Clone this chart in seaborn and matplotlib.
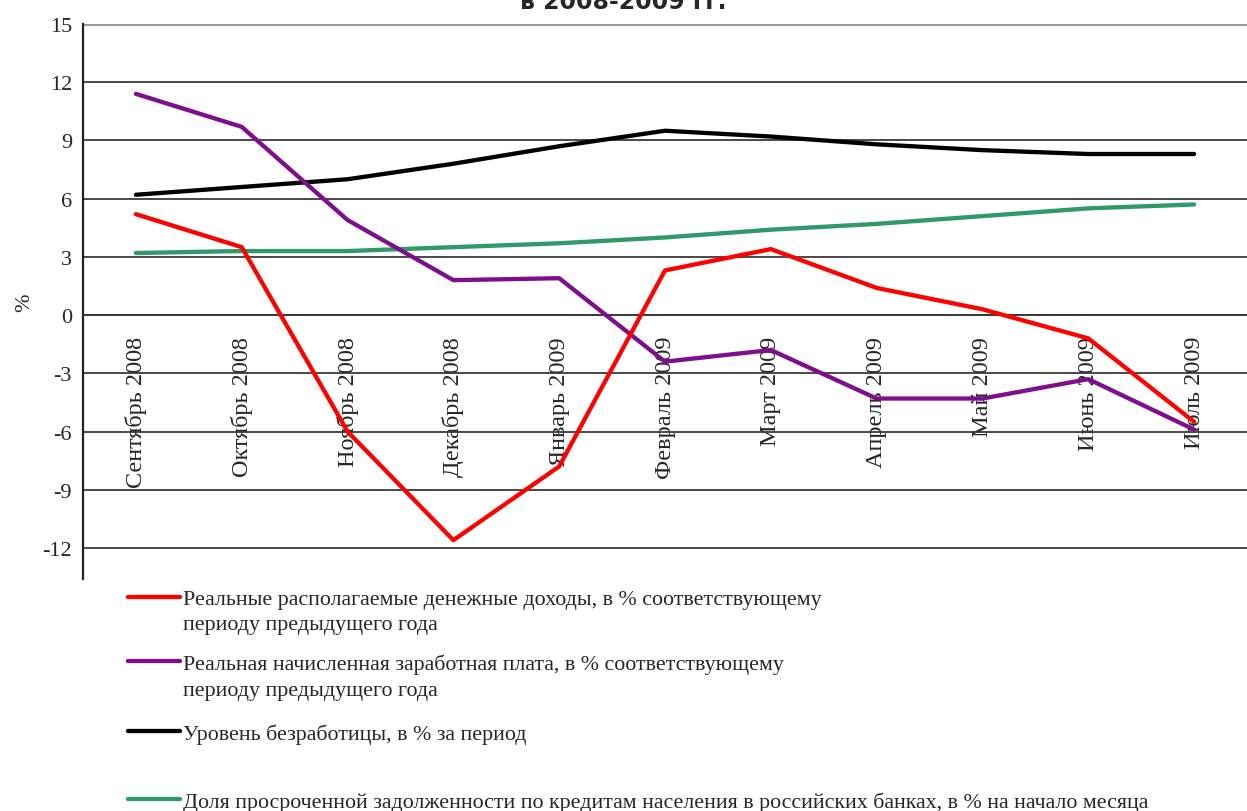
import matplotlib
matplotlib.use("Agg")
import matplotlib.pyplot as plt
from matplotlib.lines import Line2D
import seaborn as sns
import pandas as pd
import numpy as np

months = ["Сентябрь 2008", "Октябрь 2008", "Ноябрь 2008", "Декабрь 2008", "Январь 2009",
          "Февраль 2009", "Март 2009", "Апрель 2009", "Май 2009", "Июнь 2009", "Июль 2009"]

income = [5.2, 3.5, -6.0, -11.6, -7.8, 2.3, 3.4, 1.4, 0.3, -1.2, -5.5]
wages = [11.4, 9.7, 4.9, 1.8, 1.9, -2.4, -1.8, -4.3, -4.3, -3.3, -5.9]
unemployment = [6.2, 6.6, 7.0, 7.8, 8.7, 9.5, 9.2, 8.8, 8.5, 8.3, 8.3]
overdue = [3.2, 3.3, 3.3, 3.5, 3.7, 4.0, 4.4, 4.7, 5.1, 5.5, 5.7]

series_names = [
    "Реальные располагаемые денежные доходы, в % соответствующему\nпериоду предыдущего года",
    "Реальная начисленная заработная плата, в % соответствующему\nпериоду предыдущего года",
    "Уровень безработицы, в % за период",
    "Доля просроченной задолженности по кредитам населения в российских банках, в % на начало месяца",
]
series_values = [income, wages, unemployment, overdue]
colors = ["#FF0000", "#7E0F8C", "#000000", "#2F9968"]

yticks = [-12, -9, -6, -3, 0, 3, 6, 9, 12, 15]
title = "в 2008-2009 гг."

rows = []
for name, vals in zip(series_names, series_values):
    for i, v in enumerate(vals):
        rows.append({"idx": i, "value": v, "series": name})
df = pd.DataFrame(rows)

sns.set_style("white")
plt.rcParams["font.family"] = ["Liberation Serif", "DejaVu Serif"]

W, H = 1247, 812
fig = plt.figure(figsize=(W / 100, H / 100), dpi=100)
ax = fig.add_axes([83 / W, 1 - 580 / H, 1 - 83 / W, (580 - 25) / H])

# grid lines
for yv in yticks:
    ax.axhline(yv, color="#999999" if yv == 15 else "#3a3a3a",
               lw=2.2 if yv == 15 else 1.3, zorder=1)

# draw lines (green, black, purple, red order for layering)
order = [3, 2, 1, 0]
for k in order:
    sub = df[df["series"] == series_names[k]]
    sns.lineplot(data=sub, x="idx", y="value", color=colors[k], lw=3.1,
                 ax=ax, legend=False, sort=False, zorder=3 + (3 - k))

ax.set_xlim(-0.5, 10.5)
ax.set_ylim(-13.6, 15)
ax.set_yticks(yticks)
ax.set_yticklabels([str(t) for t in yticks], fontsize=16)
ax.tick_params(axis="y", direction="out", length=5, width=1.2, color="#333333", pad=3)

ax.spines["top"].set_visible(False)
ax.spines["right"].set_visible(False)
ax.spines["left"].set_color("#222222")
ax.spines["left"].set_linewidth(1.6)
ax.spines["bottom"].set_position(("data", 0))
ax.spines["bottom"].set_color("#3a3a3a")
ax.spines["bottom"].set_linewidth(1.3)

ax.set_xticks(range(len(months)))
ax.set_xticklabels(months, rotation=90, fontsize=17.5, va="top", ha="center")
ax.tick_params(axis="x", which="major", length=0, pad=15)
ax.set_xticks(np.arange(0.5, len(months) - 1, 1.0), minor=True)
ax.tick_params(axis="x", which="minor", direction="out", length=5, width=1.2, color="#222222")
for lbl in ax.get_xticklabels():
    lbl.set_zorder(2)

ax.set_xlabel("")
ax.set_ylabel("%", fontsize=16, labelpad=6)

# title (clipped at top, as in the reference)
fig.text(0.5, 1 - 9 / H, title, ha="center", va="baseline", fontsize=17,
         fontweight="bold", family="DejaVu Sans")

# legend drawn below the plot
leg_y = [598, 662, 732, 800]
for k in range(4):
    y = 1 - leg_y[k] / H
    fig.add_artist(Line2D([128 / W, 180 / W], [y, y], color=colors[k], lw=3.1,
                          transform=fig.transFigure, solid_capstyle="round"))
    fig.text(183 / W, y + 7 / H, series_names[k], ha="left", va="top",
             fontsize=15.8, linespacing=1.45)

fig.savefig("out.png", dpi=100)
